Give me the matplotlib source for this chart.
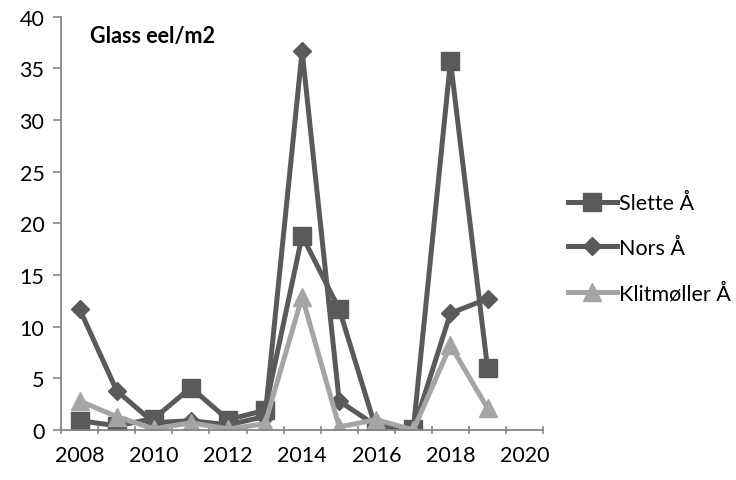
import matplotlib.pyplot as plt
import numpy as np

plt.rcParams['font.family'] = ['Lato', 'DejaVu Sans']

years = [2008, 2009, 2010, 2011, 2012, 2013, 2014, 2015, 2016, 2017, 2018, 2019]
slette = [0.9, 0.4, 1.1, 4.1, 1.0, 1.9, 18.8, 11.7, 0.0, 0.1, 35.7, 6.0]
nors = [11.7, 3.8, 0.7, 0.9, 0.5, 1.3, 36.7, 2.8, 0.4, 0.0, 11.3, 12.7]
klit = [2.8, 1.3, 0.1, 0.7, 0.1, 0.6, 12.9, 0.3, 1.0, 0.0, 8.2, 2.1]

dark = '#5a5a5a'
light = '#a5a5a5'

fig = plt.figure(figsize=(7.36, 4.81), dpi=100)
ax = fig.add_axes([0.083, 0.104, 0.655, 0.859])

ax.plot(years, slette, color=dark, lw=3.6, marker='s', ms=13, label='Slette Å')
ax.plot(years, nors, color=dark, lw=3.6, marker='D', ms=9, label='Nors Å')
ax.plot(years, klit, color=light, lw=3.6, marker='^', ms=13, label='Klitmøller Å')

ax.set_xlim(2007.5, 2020.5)
ax.set_ylim(0, 40)
ax.set_yticks(np.arange(0, 41, 5))
# category style axis: ticks between years, labels on even years
ax.set_xticks(np.arange(2007.5, 2021, 1))
ax.set_xticklabels([])
ax.set_xticks(np.arange(2008, 2021, 2), minor=True)
ax.set_xticklabels([str(y) for y in range(2008, 2021, 2)], minor=True)
ax.tick_params(axis='x', which='minor', length=0, pad=11, labelsize=15.5)
ax.tick_params(axis='x', which='major', length=6, direction='inout', color='#868686', width=1.2)
ax.tick_params(axis='y', length=6, direction='out', color='#868686', width=1.2, labelsize=15.5, pad=6)

for s in ['top', 'right']:
    ax.spines[s].set_visible(False)
for s in ['left', 'bottom']:
    ax.spines[s].set_color('#868686')
    ax.spines[s].set_linewidth(1.3)

ax.text(0.06, 0.955, 'Glass eel/m2', transform=ax.transAxes, fontsize=15.5,
        fontweight='bold', va='center', ha='left')

fig.legend(loc='center left', bbox_to_anchor=(0.745, 0.482), frameon=False,
           fontsize=15.5, handlelength=2.3, handletextpad=0.1, labelspacing=1.15)

fig.savefig('out.png', dpi=100)
